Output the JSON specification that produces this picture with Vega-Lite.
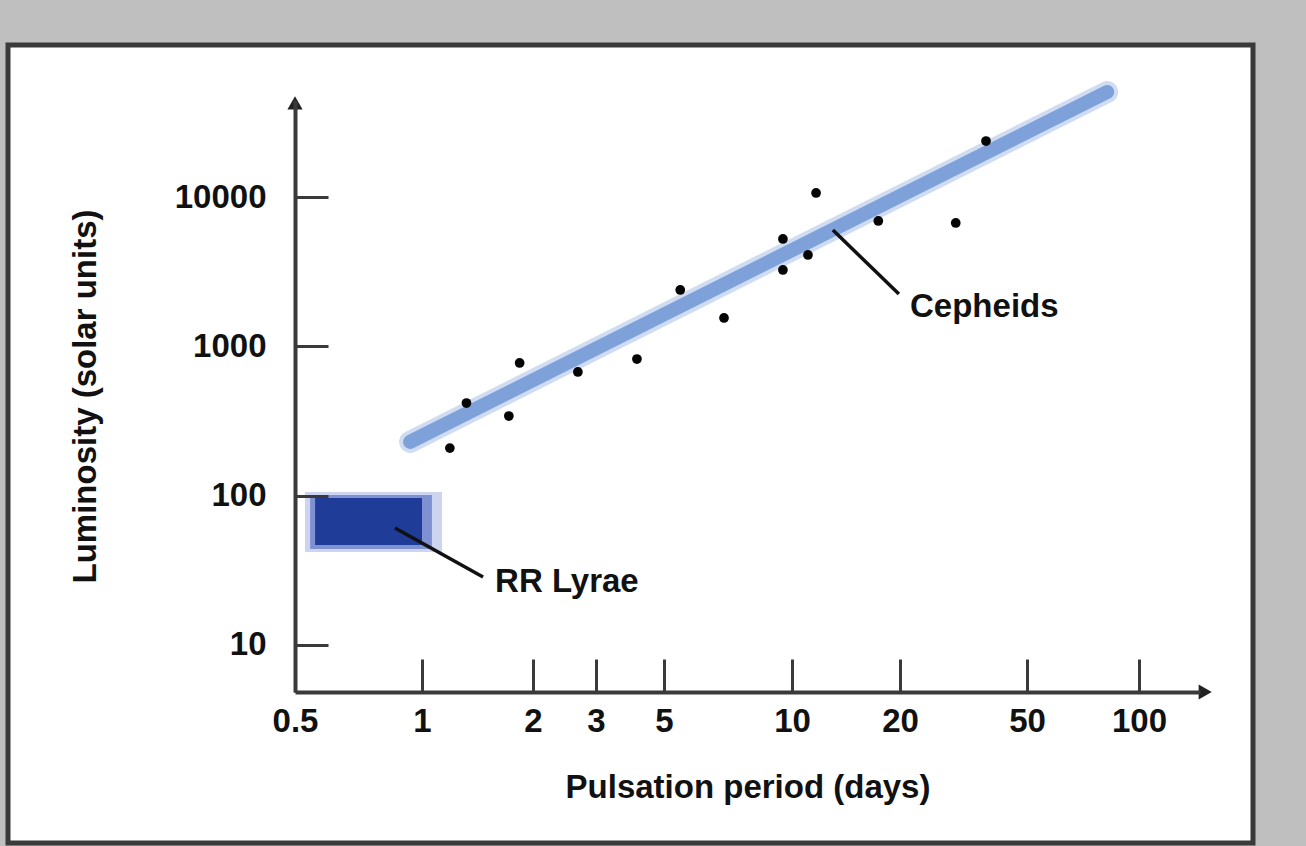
{
  "$schema": "https://vega.github.io/schema/vega-lite/v6.json",
  "width": 1245,
  "height": 798,
  "autosize": {"type": "none"},
  "padding": {"left": 8, "top": 45, "right": 53, "bottom": 3},
  "background": "#bfbfbf",
  "config": {
    "view": {"fill": "white", "stroke": "#3a3a3a", "strokeWidth": 5},
    "font": "Liberation Sans"
  },
  "datasets": {
    "cepheids": [
      {"period": 1.19, "luminosity": 208},
      {"period": 1.32, "luminosity": 417},
      {"period": 1.72, "luminosity": 341},
      {"period": 1.84, "luminosity": 773},
      {"period": 2.67, "luminosity": 673},
      {"period": 4.08, "luminosity": 822},
      {"period": 5.46, "luminosity": 2384},
      {"period": 6.92, "luminosity": 1548},
      {"period": 9.52, "luminosity": 5233},
      {"period": 9.52, "luminosity": 3245},
      {"period": 11.08, "luminosity": 4090},
      {"period": 11.67, "luminosity": 10640},
      {"period": 17.4, "luminosity": 6910},
      {"period": 29.9, "luminosity": 6700},
      {"period": 37.2, "luminosity": 23710}
    ],
    "fit": [
      {"period": 0.937, "luminosity": 229},
      {"period": 82.1, "luminosity": 50500}
    ],
    "rrlyrae": [
      {"part": "halo", "period": 0.528, "period2": 1.133, "luminosity": 105.7, "luminosity2": 41.9},
      {"part": "fringe", "period": 0.543, "period2": 1.064, "luminosity": 101, "luminosity2": 43.9},
      {"part": "core", "period": 0.558, "period2": 1.0, "luminosity": 96.4, "luminosity2": 46.7}
    ],
    "labels": [
      {"name": "Cepheids", "period": 21.5, "luminosity": 1833, "ptr_p1": 13.0, "ptr_l1": 6010, "ptr_p2": 19.86, "ptr_l2": 2240},
      {"name": "RR Lyrae", "period": 1.578, "luminosity": 26.4, "ptr_p1": 0.863, "ptr_l1": 60.7, "ptr_p2": 1.464, "ptr_l2": 28.5}
    ],
    "arrows": [
      {"axis": "y", "period": 0.5, "luminosity": 42700},
      {"axis": "x", "period": 153, "luminosity": 4.836}
    ]
  },
  "layer": [
    {
      "data": {"name": "rrlyrae"},
      "mark": {"type": "rect"},
      "encoding": {
        "x": {
          "field": "period",
          "type": "quantitative",
          "scale": {
            "type": "log",
            "domain": [0.5, 1, 2, 3, 5, 10, 20, 50, 100, 148],
            "range": [287, 414, 525, 588, 656, 784, 892, 1019, 1131, 1192],
            "nice": false
          },
          "axis": {
            "title": "Pulsation period (days)",
            "orient": "bottom",
            "offset": -151,
            "values": [0.5, 1, 2, 3, 5, 10, 20, 50, 100],
            "format": "~g",
            "grid": false,
            "domainColor": "#3a3a3a",
            "domainWidth": 4,
            "tickColor": "#3a3a3a",
            "tickWidth": 3,
            "tickSize": -33,
            "labelPadding": 46,
            "labelFont": "Liberation Sans",
            "labelFontSize": 33,
            "labelFontWeight": "bold",
            "labelColor": "#111111",
            "labelFlush": false,
            "labelOverlap": false,
            "titleFont": "Liberation Sans",
            "titleFontSize": 33,
            "titleFontWeight": "bold",
            "titleColor": "#111111",
            "titlePadding": 33,
            "zindex": 1
          }
        },
        "x2": {"field": "period2"},
        "y": {
          "field": "luminosity",
          "type": "quantitative",
          "scale": {
            "type": "log",
            "domain": [4.836, 44640],
            "range": [647, 55],
            "nice": false
          },
          "axis": {
            "title": "Luminosity (solar units)",
            "orient": "left",
            "offset": -287,
            "values": [10, 100, 1000, 10000],
            "format": "d",
            "grid": false,
            "domainColor": "#3a3a3a",
            "domainWidth": 4,
            "tickColor": "#3a3a3a",
            "tickWidth": 3,
            "tickSize": -33,
            "labelPadding": 62,
            "labelFont": "Liberation Sans",
            "labelFontSize": 33,
            "labelFontWeight": "bold",
            "labelColor": "#111111",
            "labelFlush": false,
            "labelOverlap": false,
            "titleFont": "Liberation Sans",
            "titleFontSize": 33,
            "titleFontWeight": "bold",
            "titleColor": "#111111",
            "titlePadding": 72,
            "zindex": 1
          }
        },
        "y2": {"field": "luminosity2"},
        "color": {
          "field": "part",
          "type": "nominal",
          "scale": {"domain": ["halo", "fringe", "core"], "range": ["#cdd4f0", "#7f90d3", "#1f3c98"]},
          "legend": null
        }
      }
    },
    {
      "data": {"name": "fit"},
      "mark": {"type": "line", "stroke": "#c3d3ef", "strokeWidth": 22, "strokeCap": "round", "opacity": 0.8},
      "encoding": {
        "x": {"field": "period", "type": "quantitative"},
        "y": {"field": "luminosity", "type": "quantitative"}
      }
    },
    {
      "data": {"name": "fit"},
      "mark": {"type": "line", "stroke": "#7fa1d9", "strokeWidth": 14, "strokeCap": "round"},
      "encoding": {
        "x": {"field": "period", "type": "quantitative"},
        "y": {"field": "luminosity", "type": "quantitative"}
      }
    },
    {
      "data": {"name": "cepheids"},
      "mark": {"type": "point", "filled": true, "color": "#050505", "size": 95, "opacity": 1},
      "encoding": {
        "x": {"field": "period", "type": "quantitative"},
        "y": {"field": "luminosity", "type": "quantitative"}
      }
    },
    {
      "data": {"name": "labels"},
      "mark": {"type": "rule", "color": "#111111", "strokeWidth": 3.5},
      "encoding": {
        "x": {"field": "ptr_p1", "type": "quantitative"},
        "y": {"field": "ptr_l1", "type": "quantitative"},
        "x2": {"field": "ptr_p2"},
        "y2": {"field": "ptr_l2"}
      }
    },
    {
      "data": {"name": "labels"},
      "mark": {"type": "text", "align": "left", "baseline": "middle", "font": "Liberation Sans", "fontSize": 33, "fontWeight": "bold", "color": "#111111"},
      "encoding": {
        "x": {"field": "period", "type": "quantitative"},
        "y": {"field": "luminosity", "type": "quantitative"},
        "text": {"field": "name"}
      }
    },
    {
      "data": {"name": "arrows"},
      "mark": {"type": "point", "filled": true, "color": "#222222", "size": 230, "opacity": 1},
      "encoding": {
        "x": {"field": "period", "type": "quantitative"},
        "y": {"field": "luminosity", "type": "quantitative"},
        "shape": {
          "field": "axis",
          "type": "nominal",
          "scale": {"domain": ["x", "y"], "range": ["triangle-right", "triangle-up"]},
          "legend": null
        }
      }
    }
  ]
}
